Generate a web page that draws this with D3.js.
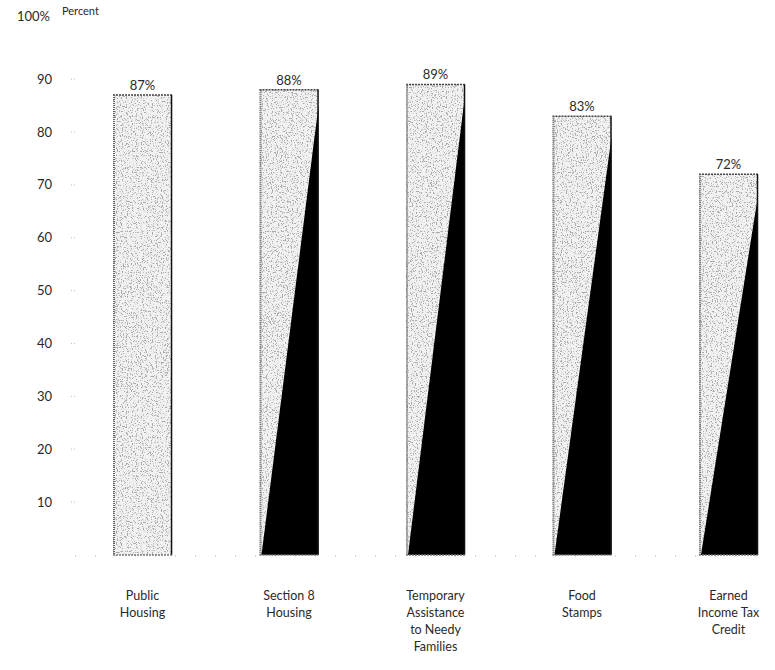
<!DOCTYPE html>
<head>
  <style>
    body { margin: 0; background: #fff; }
    text { font-family: "Lato", "Open Sans", sans-serif; fill: #2a2a2a; }
  </style>
  <title>Percent by program</title>
</head>
<body>
  <script src="https://d3js.org/d3.v7.min.js"></script>
  <svg width="775" height="670"></svg>
  <script>
    // chart data
    var programs = [
      ["Public", "Housing"],
      ["Section 8", "Housing"],
      ["Temporary", "Assistance", "to Needy", "Families"],
      ["Food", "Stamps"],
      ["Earned", "Income Tax", "Credit"]
    ];
    var percents = [87, 88, 89, 83, 72];
    var valueLabels = ["87%", "88%", "89%", "83%", "72%"];
    // height of the black wedge at the right edge of each bar (none on the first)
    var wedgeTops = [null, 85, 87, 79, 68];
    var yTicks = [10, 20, 30, 40, 50, 60, 70, 80, 90];

    var svg = d3.select("svg");

    var defs = svg.append("defs");
    var f = defs.append("filter").attr("id", "stipple")
      .attr("x", 0).attr("y", 0).attr("width", 1).attr("height", 1);
    f.append("feTurbulence").attr("type", "fractalNoise")
      .attr("baseFrequency", 0.8).attr("numOctaves", 2).attr("seed", 4)
      .attr("result", "noise");
    f.append("feColorMatrix").attr("in", "noise").attr("type", "matrix")
      .attr("values", "0 0 0 0 0.4  0 0 0 0 0.4  0 0 0 0 0.4  10 0 0 0 -5.6")
      .attr("result", "dots");
    f.append("feComposite").attr("in", "dots").attr("in2", "SourceGraphic")
      .attr("operator", "in").attr("result", "clipped");
    var m = f.append("feMerge");
    m.append("feMergeNode").attr("in", "SourceGraphic");
    m.append("feMergeNode").attr("in", "clipped");

    var x = d3.scaleBand()
      .domain(d3.range(programs.length))
      .range([113, 758])
      .paddingInner(0.597)
      .paddingOuter(0);

    var y = d3.scaleLinear().domain([0, 100]).range([555, 26.3]);

    // faint dotted baseline
    svg.append("line")
      .attr("x1", 75).attr("x2", 770)
      .attr("y1", y(0) + 1).attr("y2", y(0) + 1)
      .attr("stroke", "#aaa").attr("stroke-width", 1)
      .attr("stroke-dasharray", "1,19");

    // y axis labels and tiny ticks
    var yg = svg.append("g");
    yg.selectAll("text.tick")
      .data(yTicks)
      .enter().append("text")
      .attr("class", "tick")
      .attr("x", 52)
      .attr("y", function(d) { return y(d); })
      .attr("dy", "0.35em")
      .attr("text-anchor", "end")
      .attr("font-size", 13)
      .text(function(d) { return d; });
    yg.selectAll("line")
      .data(yTicks)
      .enter().append("line")
      .attr("x1", 71).attr("x2", 77)
      .attr("y1", function(d) { return y(d); })
      .attr("y2", function(d) { return y(d); })
      .attr("stroke", "#bbb").attr("stroke-width", 1)
      .attr("stroke-dasharray", "1,2");
    yg.append("text")
      .attr("x", 50).attr("y", y(100) - 10)
      .attr("dy", "0.35em")
      .attr("text-anchor", "end")
      .attr("font-size", 13)
      .text("100%");
    yg.append("text")
      .attr("x", 62).attr("y", 15)
      .attr("font-size", 11)
      .text("Percent");

    var bars = svg.selectAll("g.bar")
      .data(percents)
      .enter().append("g")
      .attr("class", "bar");

    bars.append("rect")
      .attr("x", function(d, i) { return x(i); })
      .attr("y", function(d) { return y(d); })
      .attr("width", x.bandwidth())
      .attr("height", function(d) { return y(0) - y(d); })
      .attr("fill", "#f1f1f1")
      .attr("filter", "url(#stipple)");

    // black wedge
    bars.filter(function(d, i) { return wedgeTops[i] != null; })
      .append("polygon")
      .attr("points", function(d) {
        var i = percents.indexOf(d);
        var l = x(i) + 2, r = x(i) + x.bandwidth();
        return [[l, y(0)], [r, y(0)], [r, y(wedgeTops[i])]].join(" ");
      })
      .attr("fill", "#000");

    // edges
    bars.append("line")
      .attr("x1", function(d, i) { return x(i); })
      .attr("x2", function(d, i) { return x(i) + x.bandwidth(); })
      .attr("y1", function(d) { return y(d); })
      .attr("y2", function(d) { return y(d); })
      .attr("stroke", "#444").attr("stroke-width", 1.5)
      .attr("stroke-dasharray", "2,1");
    bars.append("line")
      .attr("x1", function(d, i) { return x(i) + 1; })
      .attr("x2", function(d, i) { return x(i) + 1; })
      .attr("y1", function(d) { return y(d); })
      .attr("y2", y(0))
      .attr("stroke", "#666").attr("stroke-width", 2)
      .attr("stroke-dasharray", "1,1");
    bars.append("line")
      .attr("x1", function(d, i) { return x(i) + x.bandwidth() - 0.5; })
      .attr("x2", function(d, i) { return x(i) + x.bandwidth() - 0.5; })
      .attr("y1", function(d) { return y(d); })
      .attr("y2", y(0))
      .attr("stroke", "#111").attr("stroke-width", 1.5);
    bars.append("line")
      .attr("x1", function(d, i) { return x(i); })
      .attr("x2", function(d, i) { return x(i) + x.bandwidth(); })
      .attr("y1", y(0)).attr("y2", y(0))
      .attr("stroke", "#777").attr("stroke-width", 1.5)
      .attr("stroke-dasharray", "2,1");

    // value labels
    bars.append("text")
      .attr("x", function(d, i) { return x(i) + x.bandwidth() / 2; })
      .attr("y", function(d) { return y(d) - 5; })
      .attr("text-anchor", "middle")
      .attr("font-size", 13)
      .text(function(d, i) { return valueLabels[i]; });

    // category labels
    var cat = svg.selectAll("text.cat")
      .data(programs)
      .enter().append("text")
      .attr("class", "cat")
      .attr("text-anchor", "middle")
      .attr("font-size", 12.5)
      .attr("x", function(d, i) { return x(i) + x.bandwidth() / 2; })
      .attr("y", 600);
    cat.selectAll("tspan")
      .data(function(d) { return d; })
      .enter().append("tspan")
      .attr("x", function() { return d3.select(this.parentNode).attr("x"); })
      .attr("dy", function(d, j) { return j === 0 ? 0 : 17; })
      .text(function(d) { return d; });
  </script>
</body>
